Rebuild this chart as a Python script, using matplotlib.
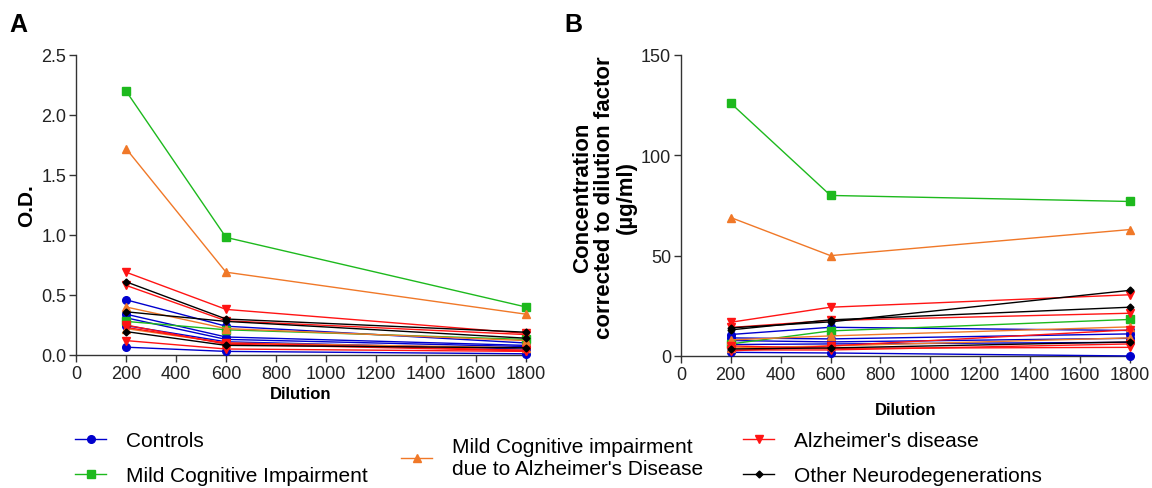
import matplotlib.pyplot as plt
from matplotlib.lines import Line2D

plt.rcParams['font.family'] = ['Liberation Sans', 'DejaVu Sans']

# Dilution steps
dilution = [200, 600, 1800]

# Panel A: O.D. per subject, one row per subject
od_controls = [[0.46, 0.24, 0.10], [0.34, 0.15, 0.08], [0.31, 0.13, 0.07],
               [0.245, 0.11, 0.05], [0.065, 0.03, 0.01]]
od_mci = [[2.20, 0.98, 0.40], [0.28, 0.21, 0.13]]
od_mci_ad = [[1.72, 0.69, 0.34], [0.40, 0.22, 0.12], [0.22, 0.10, 0.06]]
od_ad = [[0.69, 0.38, 0.18], [0.58, 0.285, 0.17], [0.25, 0.09, 0.035],
         [0.23, 0.10, 0.04], [0.12, 0.05, 0.03]]
od_other = [[0.61, 0.30, 0.19], [0.36, 0.28, 0.14], [0.195, 0.08, 0.06]]

# Panel B: concentration corrected to dilution factor (ug/ml)
conc_controls = [[10.7, 14.3, 12.7], [9.0, 8.5, 11.0], [7.7, 7.0, 8.8],
                 [5.7, 6.0, 6.8], [1.8, 1.5, 0.0]]
conc_mci = [[126, 80, 77], [6.0, 12.5, 18.2]]
conc_mci_ad = [[69, 50, 63], [8.0, 10.0, 14.5], [4.0, 5.0, 9.0]]
conc_ad = [[16.8, 24.3, 30.5], [14.2, 17.7, 21.3], [5.0, 3.8, 4.3],
           [3.0, 3.0, 6.0], [2.5, 5.0, 13.0]]
conc_other = [[14.0, 17.0, 32.7], [13.0, 18.0, 24.3], [3.5, 4.0, 7.0]]

groups = ["Controls", "Mild Cognitive Impairment",
          "Mild Cognitive impairment\ndue to Alzheimer's Disease",
          "Alzheimer's disease", "Other Neurodegenerations"]
colors = ['#0000CD', '#1DB91D', '#F07828', '#FF1414', '#000000']
markers = ['o', 's', '^', 'v', 'D']
msizes = [5.5, 5.5, 5.5, 6, 3.5]

od_sets = [od_controls, od_mci, od_mci_ad, od_ad, od_other]
conc_sets = [conc_controls, conc_mci, conc_mci_ad, conc_ad, conc_other]

fig = plt.figure(figsize=(11.52, 4.89), dpi=100)
axA = fig.add_axes([0.066, 0.272, 0.3906, 0.6135])
axB = fig.add_axes([0.591, 0.270, 0.3898, 0.6155])


def draw(ax, sets):
    for rows, c, m, ms in zip(sets, colors, markers, msizes):
        for r in rows:
            ax.plot(dilution, r, color=c, marker=m, markersize=ms, lw=1.0,
                    clip_on=False, zorder=3)
    for side in ['top', 'right']:
        ax.spines[side].set_visible(False)
    for side in ['left', 'bottom']:
        ax.spines[side].set_color('#333333')
        ax.spines[side].set_linewidth(1.0)
    ax.set_xlim(0, 1800)
    ax.set_xticks(range(0, 1801, 200))
    ax.tick_params(labelsize=13, length=5, width=1, pad=2, color='#333333',
                   labelcolor='#222222')


draw(axA, od_sets)
axA.set_ylim(0, 2.5)
axA.set_yticks([0, 0.5, 1.0, 1.5, 2.0, 2.5])
axA.set_yticklabels(['0.0', '0.5', '1.0', '1.5', '2.0', '2.5'])
axA.set_ylabel('O.D.', fontsize=15, fontweight='bold')
axA.yaxis.set_label_coords(-0.088, 0.5)
axA.set_xlabel('Dilution', fontsize=12, fontweight='bold', labelpad=3)

draw(axB, conc_sets)
axB.set_ylim(0, 150)
axB.set_yticks([0, 50, 100, 150])
axB.set_ylabel('Concentration\ncorrected to dilution factor\n(µg/ml)',
               fontsize=16, fontweight='bold', linespacing=1.05)
axB.yaxis.set_label_coords(-0.098, 0.53)
axB.set_xlabel('Dilution', fontsize=12, fontweight='bold', labelpad=14)

fig.text(0.008, 0.935, 'A', fontsize=18, fontweight='bold')
fig.text(0.490, 0.935, 'B', fontsize=18, fontweight='bold')

# Legend in three blocks
handles = [Line2D([0], [0], color=c, marker=m, markersize=ms, lw=1.0)
           for c, m, ms in zip(colors, markers, msizes)]
leg_kw = dict(frameon=False, fontsize=15, handlelength=1.5, handletextpad=0.95,
              labelspacing=0.78, borderpad=0)
l1 = fig.legend(handles[0:2], groups[0:2], loc='upper left',
                bbox_to_anchor=(0.056, 0.138), **leg_kw)
l2 = fig.legend([handles[2]], [groups[2]], loc='upper left',
                bbox_to_anchor=(0.339, 0.126), **leg_kw)
l3 = fig.legend(handles[3:5], groups[3:5], loc='upper left',
                bbox_to_anchor=(0.636, 0.138), **leg_kw)

fig.savefig('out.png', dpi=100)
